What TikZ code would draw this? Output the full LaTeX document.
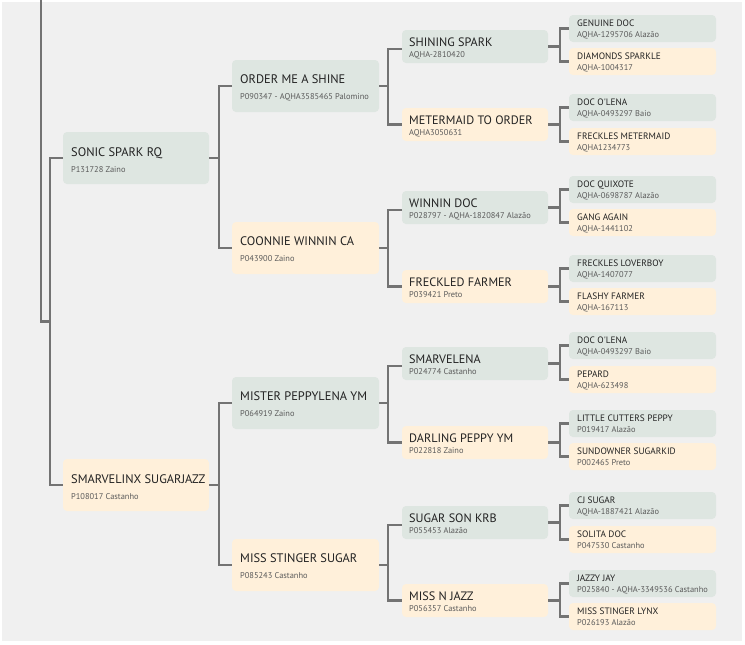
\documentclass[tikz,border=0pt]{standalone}
\usepackage{fontspec}
\setmainfont{PT Sans}
\definecolor{bgc}{HTML}{F0F0F0}
\definecolor{gbox}{HTML}{DEE6E1}
\definecolor{cbox}{HTML}{FFF0DA}
\definecolor{lnc}{HTML}{737373}
\definecolor{tcol}{HTML}{222222}
\definecolor{scol}{HTML}{5A5A5A}
\newcommand{\tA}{\fontsize{12.4}{15}\selectfont}
\newcommand{\tC}{\fontsize{12.2}{15}\selectfont}
\newcommand{\tD}{\fontsize{9.3}{11}\selectfont}
\newcommand{\tS}{\fontsize{8.4}{9}\selectfont}
\tikzset{
  box/.style={anchor=north west, rounded corners=4pt, draw=none, inner sep=0pt, outer sep=0pt},
  ttl/.style={anchor=base west, inner sep=0pt, text=tcol},
  sbt/.style={anchor=base west, inner sep=0pt, text=scol, font=\tS},
  conn/.style={draw=lnc, line width=2.5pt, line join=miter},
}
% level macros: name, fill, ytop, title, sub
\newcommand{\lone}[5]{%
  \node[box,fill=#2,minimum width=146pt,minimum height=52pt] (#1) at (63,#3) {};
  \node[ttl,font=\tA] (#1t) at ([xshift=8pt,yshift=-24pt]#1.north west) {#4};
  \node[sbt] (#1s) at ([xshift=8pt,yshift=-40pt]#1.north west) {#5};}
\newcommand{\ltwo}[5]{%
  \node[box,fill=#2,minimum width=147pt,minimum height=52pt] (#1) at (232,#3) {};
  \node[ttl,font=\tA] (#1t) at ([xshift=8pt,yshift=-23.5pt]#1.north west) {#4};
  \node[sbt] (#1s) at ([xshift=8pt,yshift=-39.5pt]#1.north west) {#5};}
\newcommand{\lthree}[5]{%
  \node[box,fill=#2,minimum width=146pt,minimum height=33pt] (#1) at (402,#3) {};
  \node[ttl,font=\tC] (#1t) at ([xshift=7pt,yshift=-16pt]#1.north west) {#4};
  \node[sbt] (#1s) at ([xshift=7pt,yshift=-27pt]#1.north west) {#5};}
\newcommand{\lfour}[5]{%
  \node[box,fill=#2,minimum width=147pt,minimum height=27pt] (#1) at (569,#3) {};
  \node[ttl,font=\tD] (#1t) at ([xshift=8pt,yshift=-11.8pt]#1.north west) {#4};
  \node[sbt] (#1s) at ([xshift=8pt,yshift=-22.7pt]#1.north west) {#5};}
\begin{document}
\begin{tikzpicture}[x=1pt,y=-1pt]
\useasboundingbox (0,0) rectangle (745,645);
\fill[white] (0,0) rectangle (745,645);
\fill[bgc] (2,2) rectangle (742,641);

% level 1
\lone{sonic}{gbox}{132}{SONIC SPARK RQ}{P131728 Zaino}
\lone{smarv}{cbox}{459}{SMARVELINX SUGARJAZZ}{P108017 Castanho}
% level 2
\ltwo{order}{gbox}{60}{ORDER ME A SHINE}{P090347 - AQHA3585465 Palomino}
\ltwo{coonnie}{cbox}{222}{COONNIE WINNIN CA}{P043900 Zaino}
\ltwo{mister}{gbox}{377}{MISTER PEPPYLENA YM}{P064919 Zaino}
\ltwo{missss}{cbox}{539}{MISS STINGER SUGAR}{P085243 Castanho}
% level 3
\lthree{shining}{gbox}{30}{SHINING SPARK}{AQHA-2810420}
\lthree{meter}{cbox}{108}{METERMAID TO ORDER}{AQHA3050631}
\lthree{winnin}{gbox}{191}{WINNIN DOC}{P028797 - AQHA-1820847 Alazão}
\lthree{freckled}{cbox}{270}{FRECKLED FARMER}{P039421 Preto}
\lthree{smarvelena}{gbox}{347}{SMARVELENA}{P024774 Castanho}
\lthree{darling}{cbox}{426}{DARLING PEPPY YM}{P022818 Zaino}
\lthree{sugarson}{gbox}{506}{SUGAR SON KRB}{P055453 Alazão}
\lthree{missn}{cbox}{584}{MISS N JAZZ}{P056357 Castanho}
% level 4
\lfour{genuine}{gbox}{15}{GENUINE DOC}{AQHA-1295706 Alazão}
\lfour{diamonds}{cbox}{48}{DIAMONDS SPARKLE}{AQHA-1004317}
\lfour{doclenaA}{gbox}{94}{DOC O\textquotesingle LENA}{AQHA-0493297 Baio}
\lfour{frecklesm}{cbox}{128}{FRECKLES METERMAID}{AQHA1234773}
\lfour{quixote}{gbox}{176}{DOC QUIXOTE}{AQHA-0698787 Alazão}
\lfour{gang}{cbox}{209}{GANG AGAIN}{AQHA-1441102}
\lfour{loverboy}{gbox}{255}{FRECKLES LOVERBOY}{AQHA-1407077}
\lfour{flashy}{cbox}{288}{FLASHY FARMER}{AQHA-167113}
\lfour{doclenaB}{gbox}{332}{DOC O\textquotesingle LENA}{AQHA-0493297 Baio}
\lfour{pepard}{cbox}{366}{PEPARD}{AQHA-623498}
\lfour{cutters}{gbox}{410}{LITTLE CUTTERS PEPPY}{P019417 Alazão}
\lfour{sundowner}{cbox}{443}{SUNDOWNER SUGARKID}{P002465 Preto}
\lfour{cjsugar}{gbox}{492}{CJ SUGAR}{AQHA-1887421 Alazão}
\lfour{solita}{cbox}{526}{SOLITA DOC}{P047530 Castanho}
\lfour{jazzy}{gbox}{570}{JAZZY JAY}{P025840 - AQHA-3349536 Castanho}
\lfour{lynx}{cbox}{603}{MISS STINGER LYNX}{P026193 Alazão}

% connectors
\coordinate (topend) at (41,-2);
\coordinate (rootj) at (51.2,321.5);
\draw[conn] (topend) |- (rootj);
\draw[conn] (sonic.west) -- ++(-13,0) |- (smarv.west);

\draw[conn] (sonic.east) -- ++(11.2,0);
\draw[conn] (order.west) -- ++(-13,0) |- (coonnie.west);
\draw[conn] (smarv.east) -- ++(11.2,0);
\draw[conn] (mister.west) -- ++(-13,0) |- (missss.west);

\foreach \p/\a/\b in {order/shining/meter, coonnie/winnin/freckled, mister/smarvelena/darling, missss/sugarson/missn}{
  \draw[conn] (\p.east) -- ++(10.2,0);
  \draw[conn] ([yshift=-2.5pt]\a.west) -- ++(-14,0) |- (\b.west);
}
\foreach \p/\a/\b in {shining/genuine/diamonds, meter/doclenaA/frecklesm, winnin/quixote/gang, freckled/loverboy/flashy, smarvelena/doclenaB/pepard, darling/cutters/sundowner, sugarson/cjsugar/solita, missn/jazzy/lynx}{
  \draw[conn] (\p.east) -- ++(13.2,0);
  \draw[conn] (\a.west) -- ++(-9,0) |- (\b.west);
}
\end{tikzpicture}
\end{document}
